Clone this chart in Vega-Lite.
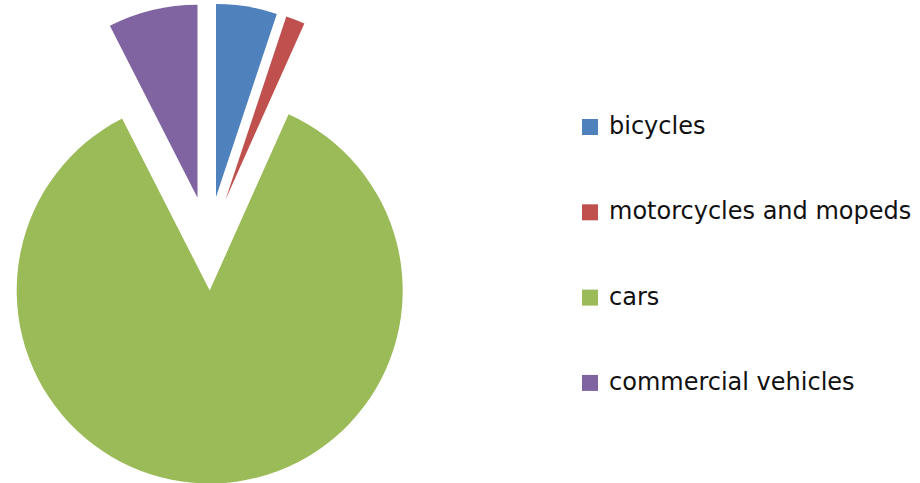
{
  "$schema": "https://vega.github.io/schema/vega-lite/v6.json",
  "width": 417,
  "height": 487,
  "padding": 0,
  "background": "white",
  "config": {"view": {"stroke": null}},
  "data": {"values": [
    {"vehicle": "bicycles", "share": 5.1, "order": 1},
    {"vehicle": "motorcycles and mopeds", "share": 1.6, "order": 2},
    {"vehicle": "cars", "share": 85.8, "order": 3},
    {"vehicle": "commercial vehicles", "share": 7.5, "order": 4}
  ]},
  "transform": [
    {"stack": "share", "groupby": [], "sort": [{"field": "order", "order": "ascending"}], "as": ["s0", "s1"]}
  ],
  "encoding": {
    "theta": {"field": "s0", "type": "quantitative", "scale": {"domain": [0, 100]}},
    "theta2": {"field": "s1"},
    "color": {
      "field": "vehicle",
      "type": "nominal",
      "scale": {
        "domain": ["bicycles", "motorcycles and mopeds", "cars", "commercial vehicles"],
        "range": ["#4F81BD", "#C0504D", "#9BBB59", "#8064A2"]
      },
      "legend": {
        "orient": "none",
        "legendX": 578,
        "legendY": 115,
        "title": null,
        "symbolType": "square",
        "symbolSize": 256,
        "symbolStrokeWidth": 0,
        "labelFontSize": 24,
        "labelFont": "DejaVu Sans",
        "labelColor": "#111111",
        "rowPadding": 61.3,
        "labelLimit": 500,
        "labelOffset": 7
      }
    }
  },
  "layer": [
    {"transform": [{"filter": "datum.vehicle === 'bicycles'"}], "mark": {"type": "arc", "outerRadius": 193, "xOffset": 7.5, "yOffset": -46.4}},
    {"transform": [{"filter": "datum.vehicle === 'motorcycles and mopeds'"}], "mark": {"type": "arc", "outerRadius": 193, "xOffset": 17.0, "yOffset": -43.8}},
    {"transform": [{"filter": "datum.vehicle === 'cars'"}], "mark": {"type": "arc", "outerRadius": 193, "xOffset": 1.2, "yOffset": 47}},
    {"transform": [{"filter": "datum.vehicle === 'commercial vehicles'"}], "mark": {"type": "arc", "outerRadius": 193, "xOffset": -11.0, "yOffset": -45.7}}
  ]
}
